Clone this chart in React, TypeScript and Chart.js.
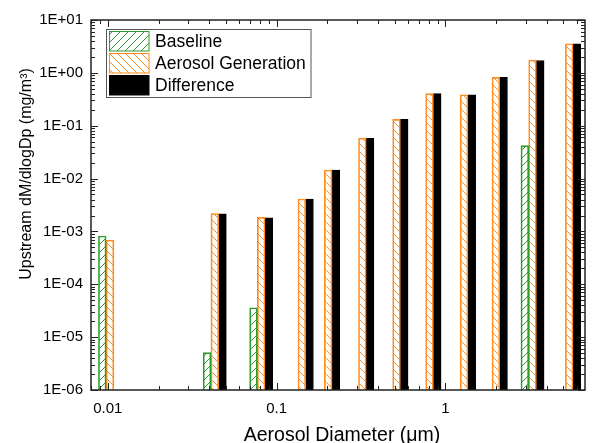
import React, { useEffect, useRef } from 'react';
import { Chart, registerables } from 'chart.js';

Chart.register(...registerables);

// ---- Data ----
const diameters = [0.0103, 0.043, 0.081, 0.141, 0.202, 0.322, 0.513, 0.805, 1.29, 1.99, 3.28, 5.41];
const baseline = [8.2e-4, 5.1e-6, 3.6e-5, null, null, null, null, null, null, null, 4.2e-2, null];
const aerosolGeneration = [6.8e-4, 2.17e-3, 1.85e-3, 4.1e-3, 1.45e-2, 5.8e-2, 0.132, 0.404, 0.386, 0.822, 1.75, 3.56];
const difference = [null, 2.16e-3, 1.81e-3, 4.1e-3, 1.45e-2, 5.8e-2, 0.132, 0.404, 0.386, 0.822, 1.71, 3.56];
const seriesNames = ['Baseline', 'Aerosol Generation', 'Difference'];
const xTickLabels = ['0.01', '0.1', '1'];
const xTitle = 'Aerosol Diameter (\u03bcm)';
const yTitle = 'Upstream dM/dlogDp (mg/m\u00b3)';

const GREEN = '#2e9b2e';
const ORANGE = '#ff8c1f';
const BLACK = '#000000';
const FONT = "'Liberation Sans', Arial, sans-serif";

function makeHatch(color: string, dir: 'fwd' | 'back'): CanvasPattern | string {
  const c = document.createElement('canvas');
  c.width = 8;
  c.height = 8;
  const g = c.getContext('2d');
  if (!g) return color;
  g.strokeStyle = color;
  g.lineWidth = 1;
  g.beginPath();
  for (const o of [-8, 0, 8]) {
    if (dir === 'back') {
      g.moveTo(o, 0);
      g.lineTo(o + 8, 8);
    } else {
      g.moveTo(o, 8);
      g.lineTo(o + 8, 0);
    }
  }
  g.stroke();
  return g.createPattern(c, 'repeat') || color;
}

const isPow10 = (v: number) => Math.abs(Math.log10(v) - Math.round(Math.log10(v))) < 1e-6;
const fmtE = (v: number) => {
  const e = Math.round(Math.log10(v));
  return '1E' + (e < 0 ? '-' : '+') + String(Math.abs(e)).padStart(2, '0');
};

export default function App() {
  const ref = useRef<HTMLCanvasElement | null>(null);

  useEffect(() => {
    if (!ref.current) return;
    const greenHatch = makeHatch(GREEN, 'fwd');
    const orangeHatch = makeHatch(ORANGE, 'back');
    const fills = [greenHatch, orangeHatch, BLACK];
    const borders = [GREEN, ORANGE, BLACK];
    const series = [baseline, aerosolGeneration, difference];

    const framePlugin = {
      id: 'frameTicks',
      afterDatasetsDraw(chart: any) {
        const ctx = chart.ctx as CanvasRenderingContext2D;
        const xs = chart.scales.x;
        const ys = chart.scales.y;
        const { left, right, top, bottom } = chart.chartArea;
        ctx.save();
        ctx.strokeStyle = '#222';
        ctx.lineWidth = 1;
        ctx.beginPath();
        for (let e = -4; e <= 2; e++) {
          for (let m = 1; m <= 9; m++) {
            const v = m * Math.pow(10, e);
            if (v < xs.min || v > xs.max) continue;
            const px = Math.round(xs.getPixelForValue(v)) + 0.5;
            const len = m === 1 ? 7 : 4;
            ctx.moveTo(px, bottom);
            ctx.lineTo(px, bottom - len);
            ctx.moveTo(px, top);
            ctx.lineTo(px, top + len);
          }
        }
        for (let e = -7; e <= 2; e++) {
          for (let m = 1; m <= 9; m++) {
            const v = m * Math.pow(10, e);
            if (v < ys.min * 0.9999 || v > ys.max * 1.0001) continue;
            const py = Math.round(ys.getPixelForValue(v)) + 0.5;
            const len = m === 1 ? 7 : 4;
            ctx.moveTo(left, py);
            ctx.lineTo(left + len, py);
            ctx.moveTo(right, py);
            ctx.lineTo(right - len, py);
          }
        }
        ctx.stroke();
        ctx.lineWidth = 1.5;
        ctx.strokeStyle = '#222';
        ctx.strokeRect(left, top, right - left, bottom - top);
        ctx.restore();
      },
      afterDraw(chart: any) {
        const ctx = chart.ctx as CanvasRenderingContext2D;
        ctx.save();
        // Legend
        const bx = 106.5, by = 29.5, bw = 204.5, bh = 68;
        ctx.fillStyle = '#ffffff';
        ctx.fillRect(bx, by, bw, bh);
        ctx.strokeStyle = '#555';
        ctx.lineWidth = 1;
        ctx.strokeRect(bx, by, bw, bh);
        ctx.font = `17.5px ${FONT}`;
        ctx.textAlign = 'left';
        ctx.textBaseline = 'alphabetic';
        for (let i = 0; i < seriesNames.length; i++) {
          const sy = 31.5 + i * 22;
          ctx.fillStyle = fills[i] as any;
          ctx.fillRect(109.5, sy, 39.5, 19.5);
          ctx.strokeStyle = borders[i];
          ctx.lineWidth = 1;
          ctx.strokeRect(109.5, sy, 39.5, 19.5);
          ctx.fillStyle = '#000';
          ctx.fillText(seriesNames[i], 155, 47 + i * 22);
        }
        // Axis titles
        ctx.fillStyle = '#000';
        ctx.font = `19.5px ${FONT}`;
        ctx.textAlign = 'center';
        ctx.fillText(xTitle, 342, 441);
        ctx.save();
        ctx.translate(31, 174);
        ctx.rotate(-Math.PI / 2);
        ctx.font = `16px ${FONT}`;
        ctx.fillText(yTitle, 0, 0);
        ctx.restore();
        ctx.restore();
      },
    };

    const chart = new Chart(ref.current, {
      type: 'bar',
      data: {
        datasets: series.map((vals, i) => ({
          label: seriesNames[i],
          data: diameters.map((d, j) => ({ x: d, y: vals[j] })),
          backgroundColor: fills[i] as any,
          borderColor: borders[i],
          borderWidth: 1,
          barThickness: 7.7,
        })),
      },
      options: {
        responsive: false,
        animation: false,
        devicePixelRatio: 1,
        layout: { padding: { left: 0, top: 20, right: 5, bottom: 0 } },
        plugins: {
          legend: { display: false },
          tooltip: { enabled: false },
        },
        scales: {
          x: {
            type: 'logarithmic',
            min: 0.007949,
            max: 6.71,
            offset: false,
            grid: { display: false, offset: false, drawTicks: false },
            border: { display: false },
            afterFit: (s: any) => {
              s.height = 53;
            },
            ticks: {
              autoSkip: false,
              maxRotation: 0,
              minRotation: 0,
              padding: 10,
              color: '#000',
              font: { size: 15, family: FONT },
              callback: (v: any) => {
                const n = Number(v);
                if (!isPow10(n)) return '';
                const lbl = xTickLabels.find((t) => Math.abs(Number(t) - n) / n < 1e-6);
                return lbl || '';
              },
            },
          },
          y: {
            type: 'logarithmic',
            min: 1e-6,
            max: 10,
            grid: { display: false, drawTicks: false },
            border: { display: false },
            afterFit: (s: any) => {
              s.width = 91;
            },
            ticks: {
              autoSkip: false,
              padding: 8,
              color: '#000',
              font: { size: 15, family: FONT },
              callback: (v: any) => {
                const n = Number(v);
                return isPow10(n) ? fmtE(n) : '';
              },
            },
          },
        },
      } as any,
      plugins: [framePlugin],
    });
    return () => chart.destroy();
  }, []);

  return (
    <div style={{ position: 'absolute', left: 0, top: 0, width: 595, height: 443, background: '#fff' }}>
      <canvas ref={ref} width={595} height={443} style={{ width: 595, height: 443 }} />
    </div>
  );
}
